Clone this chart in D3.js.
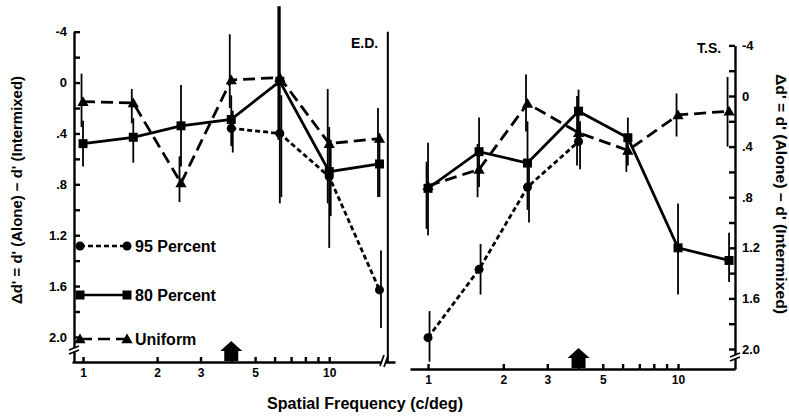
<!DOCTYPE html>
<html>
<head>
<meta charset="utf-8">
<script src="https://cdn.jsdelivr.net/npm/d3@7"></script>
<style>
body { margin: 0; background: #fff; color: #000; }
svg text { font-family: "Liberation Sans", Arial, sans-serif; font-weight: bold; fill: #000; }
.axis path, .axis line { stroke: #000; stroke-width: 2.4; }
</style>
</head>
<body>
<svg width="789" height="417"></svg>
<script>
// spatial frequencies (c/deg), 0.2 log-unit steps
var freqs = [1, 1.6, 2.5, 4, 6.3, 10, 16];

// observer E.D. (left panel)
var edUniform = [0.15, 0.16, 0.79, -0.02, -0.04, 0.48, 0.44];
var ed80 = [0.48, 0.43, 0.34, 0.29, -0.01, 0.70, 0.64];
var ed95 = [null, null, null, 0.36, 0.40, 0.74, 1.63];
var edUniformErr = [[-0.07, 0.35], [0.05, 0.32], [0.58, 0.94], [-0.38, 0.20], [-0.60, 0.45], [0.05, 0.95], [0.20, 0.90]];
var ed80Err = [[0.30, 0.66], [0.28, 0.63], [0.02, 0.66], [0.10, 0.50], [-0.60, 0.95], [0.35, 1.30], [0.40, 0.90]];
var ed95Err = [null, null, null, [0.22, 0.55], [0.10, 0.90], [0.45, 1.05], [1.32, 1.93]];
var edExtraBars = [[17.3, -0.40, 2.20]];   // freq, lo, hi

// observer T.S. (right panel)
var tsUniform = [0.71, 0.58, 0.06, 0.29, 0.43, 0.15, 0.12];
var ts80 = [0.73, 0.44, 0.53, 0.12, 0.33, 1.20, 1.30];
var ts95 = [1.91, 1.37, 0.72, 0.36, null, null, null];
var tsUniformErr = [[0.52, 1.05], [0.38, 0.80], [-0.17, 0.28], [0.00, 0.55], [0.30, 0.60], [-0.02, 0.32], [-0.15, 0.40]];
var ts80Err = [[0.37, 1.10], [0.17, 0.72], [0.20, 0.90], [-0.05, 0.30], [0.17, 0.55], [0.85, 1.57], [1.08, 1.47]];
var ts95Err = [[1.70, 2.10], [1.17, 1.57], [0.50, 1.00], [0.20, 0.58], null, null, null];

// axis ticks
var yTickValues = [-0.4, -0.2, 0, 0.2, 0.4, 0.6, 0.8, 1.0, 1.2, 1.4, 1.6, 1.8, 2.0];
var yTickLabels = { "-0.4": "-4", "0": "0", "0.4": ".4", "0.8": ".8", "1.2": "1.2", "1.6": "1.6", "2": "2.0" };
var xTickValues = [1, 2, 3, 4, 5, 6, 7, 8, 9, 10];
var xTickLabels = { 1: "1", 2: "2", 3: "3", 5: "5", 10: "10" };
var arrowFreq = 4;

var legendNames = ["95 Percent", "80 Percent", "Uniform"];

var svg = d3.select("svg");

var styles = {
    p95: { dash: "5,3", symbol: "circle" },
    p80: { dash: null, symbol: "square" },
    uni: { dash: "12,6", symbol: "triangle" }
};

function drawMarker(g, type, x, y) {
    if (type == "circle") {
        g.append("circle").attr("cx", x).attr("cy", y).attr("r", 4.5).attr("fill", "#000");
    } else if (type == "square") {
        g.append("rect").attr("x", x - 4.5).attr("y", y - 4.5).attr("width", 9).attr("height", 9).attr("fill", "#000");
    } else {
        g.append("path").attr("transform", "translate(" + x + "," + (y + 1) + ")")
            .attr("d", d3.symbol().type(d3.symbolTriangle).size(55)()).attr("fill", "#000");
    }
}

function tickFmt(d) {
    var k = String(Math.round(d * 10) / 10);
    return yTickLabels[k] !== undefined ? yTickLabels[k] : "";
}

function drawBreak(g, x, y, horizontal) {
    var b = g.append("g").attr("transform", "translate(" + x + "," + y + ")");
    if (horizontal) {
        b.append("rect").attr("x", -2).attr("y", -5).attr("width", 4).attr("height", 10).attr("fill", "#fff");
        b.append("path").attr("d", "M-4,5 L0,-6 M0,6 L4,-5").attr("stroke", "#000").attr("stroke-width", 1.8).attr("fill", "none");
    } else {
        b.append("rect").attr("x", -5).attr("y", -2).attr("width", 10).attr("height", 4).attr("fill", "#fff");
        b.append("path").attr("d", "M-5,0 L5,-4 M-5,4 L5,0").attr("stroke", "#000").attr("stroke-width", 1.8).attr("fill", "none");
    }
}

function drawPanel(cfg) {
    var g = svg.append("g");
    var x = cfg.x, y = cfg.y;

    // x axis
    var xAxis = d3.axisBottom(x).tickValues(xTickValues).tickSize(-5).tickSizeOuter(0).tickPadding(6)
        .tickFormat(function(d) { return xTickLabels[d] || ""; });
    g.append("g").attr("class", "axis").attr("transform", "translate(0," + cfg.xAxisY + ")").call(xAxis)
        .selectAll("text").style("font-size", "12px");

    // y axis
    var yAxis = (cfg.side == "left" ? d3.axisLeft(y) : d3.axisRight(y))
        .tickValues(yTickValues).tickSize(-6).tickSizeOuter(0).tickPadding(7).tickFormat(tickFmt);
    g.append("g").attr("class", "axis").attr("transform", "translate(" + cfg.yAxisX + ",0)").call(yAxis)
        .selectAll("text").style("font-size", "13px");
    g.selectAll(".axis").attr("font-family", null).attr("font-size", null);
    g.selectAll(".axis text").attr("fill", "#000");

    // arrow on the x axis
    g.append("path")
        .attr("transform", "translate(" + x(arrowFreq) + "," + (cfg.xAxisY - 1) + ")")
        .attr("d", "M-7,0 L7,0 L7,-10 L11,-10 L0,-20 L-11,-10 L-7,-10 Z")
        .attr("fill", "#000");

    // error bars
    cfg.series.forEach(function(s) {
        s.err.forEach(function(e, i) {
            if (!e) return;
            g.append("line")
                .attr("x1", x(freqs[i]) + s.off).attr("x2", x(freqs[i]) + s.off)
                .attr("y1", y(e[0])).attr("y2", y(e[1]))
                .attr("stroke", "#000").attr("stroke-width", 1.8);
        });
    });
    (cfg.extra || []).forEach(function(b) {
        g.append("line").attr("x1", x(b[0])).attr("x2", x(b[0]))
            .attr("y1", y(b[1])).attr("y2", y(b[2]))
            .attr("stroke", "#000").attr("stroke-width", 2);
    });

    // lines + markers
    cfg.series.forEach(function(s) {
        var pts = freqs.map(function(f, i) { return { f: f, v: s.vals[i] }; });
        var line = d3.line().defined(function(d) { return d.v != null; })
            .x(function(d) { return x(d.f); }).y(function(d) { return y(d.v); });
        g.append("path").datum(pts).attr("d", line)
            .attr("fill", "none").attr("stroke", "#000").attr("stroke-width", 2.8)
            .attr("stroke-dasharray", s.style.dash);
        pts.forEach(function(d) {
            if (d.v == null) return;
            drawMarker(g, s.style.symbol, x(d.f), y(d.v));
        });
    });

    // breaks
    drawBreak(g, cfg.yAxisX, cfg.yBreak, false);
    if (cfg.xBreak) drawBreak(g, cfg.xBreak, cfg.xAxisY - 1, true);

    g.append("text").attr("x", cfg.label[1]).attr("y", cfg.label[2])
        .attr("fill", "#000").style("font-size", "14px").text(cfg.label[0]);
}

// left panel (E.D.)
var xL = d3.scaleLog().domain([0.902, 18.5]).range([72, 395]);
var yL = d3.scaleLinear().domain([-0.4, 2.197]).range([31.7, 362]);
drawPanel({
    x: xL, y: yL, side: "left", xAxisY: 362, yAxisX: 74, yBreak: 350, xBreak: 384,
    label: ["E.D.", 351, 48],
    extra: edExtraBars,
    series: [
        { vals: edUniform, err: edUniformErr, style: styles.uni, off: -1.5 },
        { vals: ed80, err: ed80Err, style: styles.p80, off: 0 },
        { vals: ed95, err: ed95Err, style: styles.p95, off: 1.5 }
    ]
});

// right panel (T.S.)
var xR = d3.scaleLog().domain([0.847, 16.9]).range([410, 735]);
var yR = d3.scaleLinear().domain([-0.4, 2.158]).range([45.4, 369]);
drawPanel({
    x: xR, y: yR, side: "right", xAxisY: 369, yAxisX: 735, yBreak: 357, xBreak: null,
    label: ["T.S.", 697, 53],
    series: [
        { vals: tsUniform, err: tsUniformErr, style: styles.uni, off: -1.5 },
        { vals: ts80, err: ts80Err, style: styles.p80, off: 0 },
        { vals: ts95, err: ts95Err, style: styles.p95, off: 1.5 }
    ]
});

// legend
var legendKeys = ["p95", "p80", "uni"];
var legendY = [246, 295, 339];
legendKeys.forEach(function(k, i) {
    var lg = svg.append("g").attr("transform", "translate(0," + legendY[i] + ")");
    lg.append("line").attr("x1", 80).attr("x2", 127).attr("y1", 0).attr("y2", 0)
        .attr("stroke", "#000").attr("stroke-width", 2.4).attr("stroke-dasharray", styles[k].dash);
    drawMarker(lg, styles[k].symbol, 80, 0);
    drawMarker(lg, styles[k].symbol, 127, 0);
    lg.append("text").attr("x", 135).attr("y", 6).attr("fill", "#000")
        .style("font-size", "16px").text(legendNames[i]);
});

// axis titles
svg.append("text").attr("transform", "translate(365,409)").attr("text-anchor", "middle")
    .attr("textLength", 196).attr("lengthAdjust", "spacingAndGlyphs").attr("fill", "#000")
    .style("font-size", "16px").text("Spatial Frequency (c/deg)");

var yTitle = "\u0394d' = d' (Alone) \u2212 d' (Intermixed)";
svg.append("text").attr("transform", "translate(22,190) rotate(-90)").attr("text-anchor", "middle")
    .attr("textLength", 228).attr("lengthAdjust", "spacingAndGlyphs").attr("fill", "#000")
    .style("font-size", "15px").text(yTitle);
svg.append("text").attr("transform", "translate(776,194) rotate(90)").attr("text-anchor", "middle")
    .attr("textLength", 240).attr("lengthAdjust", "spacingAndGlyphs").attr("fill", "#000")
    .style("font-size", "15px").text(yTitle);
</script>
</body>
</html>
